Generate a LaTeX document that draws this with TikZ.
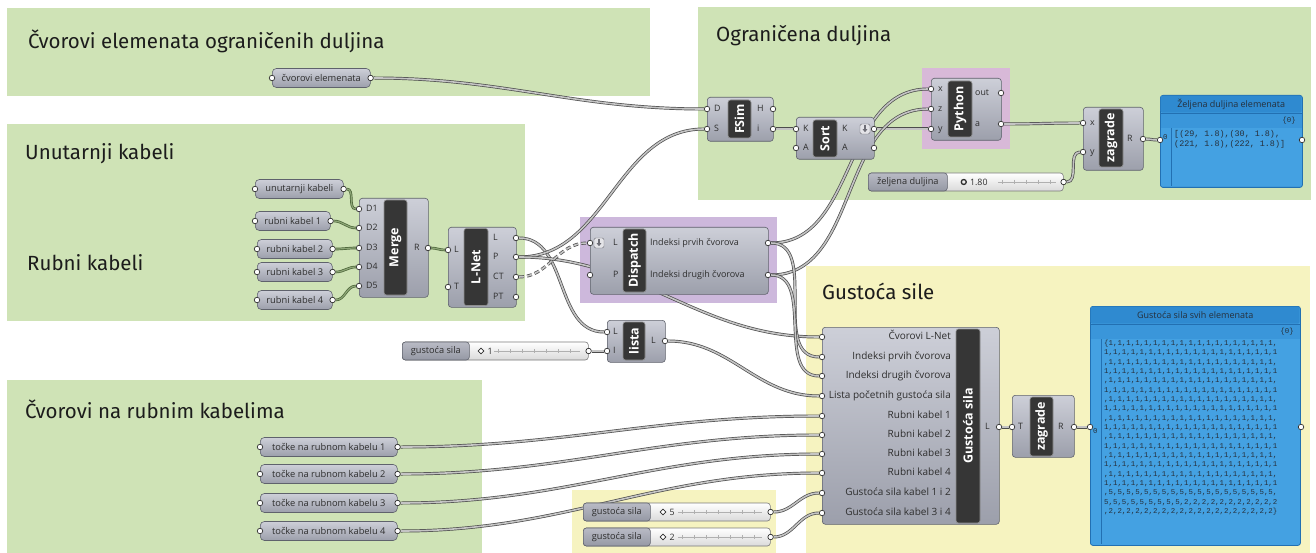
\documentclass[tikz,border=0pt]{standalone}
\usepackage{fontspec}
\setmainfont{Open Sans}
\newfontfamily\grptitlefont{Fira Sans}
\newfontfamily\panelmono{Liberation Mono}
\usetikzlibrary{positioning,arrows.meta,shapes.geometric}

\definecolor{grpgreen}{HTML}{CFE3B6}
\definecolor{grpyellow}{HTML}{F6F3C0}
\definecolor{grppurple}{HTML}{CDB8DC}
\definecolor{grppink}{HTML}{D8B9D8}
\definecolor{comptop}{HTML}{CDCFD8}
\definecolor{compbot}{HTML}{9C9FAB}
\definecolor{compline}{HTML}{5F626C}
\definecolor{bardark}{HTML}{363636}
\definecolor{barline}{HTML}{8E8E8E}
\definecolor{labeltext}{HTML}{2E2E2E}
\definecolor{titletext}{HTML}{1C1C1C}
\definecolor{portline}{HTML}{303030}
\definecolor{wireedge}{HTML}{4C4C4C}
\definecolor{wirefill}{HTML}{C4C4C4}
\definecolor{wiregreen}{HTML}{4A6338}
\definecolor{wiregreenfill}{HTML}{8DA676}
\definecolor{sldlabtop}{HTML}{B9BBC5}
\definecolor{sldlabbot}{HTML}{9598A4}
\definecolor{sldbot}{HTML}{DADADA}
\definecolor{sldline}{HTML}{7A7A7A}
\definecolor{railgray}{HTML}{B0B0B0}
\definecolor{panblue}{HTML}{44A1E2}
\definecolor{panhead}{HTML}{2F8AD0}
\definecolor{panband}{HTML}{3A96DA}
\definecolor{panline}{HTML}{2270B2}
\definecolor{pantext}{HTML}{26303C}
\definecolor{iconfill}{HTML}{E4E4E8}
\definecolor{iconline}{HTML}{6E6E76}

\pgfdeclarelayer{groups}
\pgfdeclarelayer{wires}
\pgfsetlayers{groups,wires,main}

\tikzset{
  grptitle/.style={font=\grptitlefont\fontsize{20.5}{23}\selectfont, text=titletext, anchor=base west, inner sep=0pt},
  ghcomp/.style={draw=compline, line width=0.6pt, rounded corners=3pt, top color=comptop, bottom color=compbot, anchor=north west, inner sep=0pt},
  ghbar/.style={draw=barline, line width=0.6pt, fill=bardark, rounded corners=2.5pt, rotate=90, inner sep=0pt, text=white, font=\bfseries\fontsize{12.5}{14}\selectfont},
  ghparam/.style={draw=compline, line width=0.6pt, rounded corners=4pt, top color=comptop, bottom color=compbot, anchor=west, minimum height=19pt, inner sep=0pt, text=labeltext, font=\fontsize{9.3}{10}\selectfont},
  ghlabel/.style={inner sep=0pt, text=labeltext, font=\fontsize{8.8}{10}\selectfont, text height=6pt, text depth=1.5pt},
  ghport/.style={circle, draw=portline, fill=white, line width=0.7pt, minimum size=5.5pt, inner sep=0pt},
  ghicon/.style={draw=iconline, fill=iconfill, rounded corners=1.5pt, minimum size=10pt, inner sep=0pt},
  icarrow/.style={draw=iconline, line width=1.1pt, -{Triangle[width=4.5pt,length=3pt]}},
  wire/.style={draw=wireedge, line width=0.7pt, double=wirefill, double distance=1.6pt},
  gwire/.style={draw=wiregreen, line width=0.7pt, double=wiregreenfill, double distance=1.2pt},
  sldbody/.style={draw=sldline, line width=0.6pt, rounded corners=3pt, top color=white, bottom color=sldbot, anchor=west, minimum height=18pt, inner sep=0pt},
  sldlab/.style={draw=compline, line width=0.6pt, rounded corners=3pt, top color=sldlabtop, bottom color=sldlabbot, anchor=west, minimum height=18pt, inner sep=0pt, text=labeltext, font=\fontsize{9.2}{10}\selectfont},
  dmark/.style={diamond, draw=labeltext, fill=white, line width=0.8pt, minimum size=6pt, inner sep=0pt},
  cmark/.style={circle, draw=labeltext, line width=1.3pt, minimum size=5pt, inner sep=0pt},
  sval/.style={inner sep=0pt, text=labeltext, font=\fontsize{8.8}{10}\selectfont},
  rail/.style={draw=railgray, line width=0.5pt},
  panel/.style={draw=panline, line width=0.8pt, fill=panblue, rounded corners=2.5pt, anchor=north west, inner sep=0pt},
  panhead/.style={fill=panhead, rounded corners=2pt, anchor=north west, inner sep=0pt, text=pantext, font=\fontsize{9}{10}\selectfont},
  panband/.style={fill=panband, anchor=north west, inner sep=0pt},
  panrule/.style={draw=panline, line width=0.5pt},
  panmono/.style={inner sep=0pt, text=pantext, font=\panelmono\fontsize{7.4}{9.33}\selectfont},
}

\begin{document}
\begin{tikzpicture}[x=1pt,y=-1pt]
\useasboundingbox (0,0) rectangle (1316,553);

% groups
\begin{pgfonlayer}{groups}
\fill[white] (0,0) rectangle (1316,553);
\fill[grpgreen] (7,8) rectangle (650,96);
\fill[grpgreen] (7,124) rectangle (525,321);
\fill[grpgreen] (698,7) rectangle (1311,200);
\fill[grpgreen] (7,380) rectangle (482,553);
\fill[grpyellow] (806,266) rectangle (1310,553);
\fill[grpyellow] (572,490) rectangle (776,553);
\fill[grppurple] (580,217) rectangle (777,303);
\fill[grppink] (922,68) rectangle (1010,149);
\end{pgfonlayer}

\node[grptitle] (t-cvor) at (28,49) {Čvorovi elemenata ograničenih duljina};
\node[grptitle] (t-unut) at (25,160) {Unutarnji kabeli};
\node[grptitle] (t-rub) at (27,270) {Rubni kabeli};
\node[grptitle] (t-ogr) at (716,42) {Ograničena duljina};
\node[grptitle] (t-gus) at (822,299) {Gustoća sile};
\node[grptitle] (t-toc) at (25,418) {Čvorovi na rubnim kabelima};

% params
\node[ghparam, minimum width=98pt] (cvor) at (272,78) {čvorovi elemenata};
\node[ghparam, minimum width=88pt] (unut) at (255,189) {unutarnji kabeli};
\node[ghparam, minimum width=75pt] (rub1) at (255,221) {rubni kabel 1};
\node[ghparam, minimum width=75pt] (rub2) at (257,249) {rubni kabel 2};
\node[ghparam, minimum width=75pt] (rub3) at (257,272) {rubni kabel 3};
\node[ghparam, minimum width=75pt] (rub4) at (257,300) {rubni kabel 4};
\node[ghparam, minimum width=137pt] (toc1) at (260,447) {točke na rubnom kabelu 1};
\node[ghparam, minimum width=137pt] (toc2) at (260,474) {točke na rubnom kabelu 2};
\node[ghparam, minimum width=137pt] (toc3) at (260,503) {točke na rubnom kabelu 3};
\node[ghparam, minimum width=137pt] (toc4) at (260,531) {točke na rubnom kabelu 4};
\foreach \n in {cvor,unut,rub1,rub2,rub3,rub4,toc1,toc2,toc3,toc4} {
  \node[ghport] (\n-i) at (\n.west) {};
  \node[ghport] (\n-o) at (\n.east) {};
}

% sliders
\node[sldbody, minimum width=186pt] (sg1) at (402,351) {};
\node[sldlab, minimum width=67pt] (sg1-lab) at (402,351) {gustoća sila};
\node[dmark, right=8pt of sg1-lab] (sg1-m) {};
\node[sval, right=3pt of sg1-m] (sg1-v) {1};
\node[sldbody, minimum width=187pt] (sg5) at (583,512) {};
\node[sldlab, minimum width=67pt] (sg5-lab) at (583,512) {gustoća sila};
\node[dmark, right=9pt of sg5-lab] (sg5-m) {};
\node[sval, right=3pt of sg5-m] (sg5-v) {5};
\node[sldbody, minimum width=187pt] (sg2) at (583,537) {};
\node[sldlab, minimum width=67pt] (sg2-lab) at (583,537) {gustoća sila};
\node[dmark, right=9pt of sg2-lab] (sg2-m) {};
\node[sval, right=3pt of sg2-m] (sg2-v) {2};
\node[sldbody, minimum width=195pt] (szd) at (868,182) {};
\node[sldlab, minimum width=79pt] (szd-lab) at (868,182) {željena duljina};
\node[cmark, right=13pt of szd-lab] (szd-m) {};
\node[sval, right=3pt of szd-m] (szd-v) {1.80};
\draw[rail] (494,351) -- (580,351);
\foreach \t in {498,510,...,578} \draw[rail] (\t,349) -- (\t,353);
\foreach \s in {512,537} {
  \draw[rail] (678,\s) -- (762,\s);
  \foreach \t in {682,694,...,760} \draw[rail] (\t,\s-2) -- (\t,\s+2);
}
\draw[rail] (998,182) -- (1056,182);
\foreach \t in {1002,1014,...,1056} \draw[rail] (\t,180) -- (\t,184);
\foreach \n in {sg1,sg5,sg2,szd} \node[ghport] (\n-o) at (\n.east) {};

% FSim
\node[ghcomp, minimum width=66pt, minimum height=44pt] (fsim) at (707,97) {};
\node[ghbar, minimum width=38pt, minimum height=23pt] (fsim-bar) at (739.5,119) {FSim};
\foreach \p/\y in {D/109,S/129} {\node[ghport] (fsim-\p) at (707,\y) {}; \node[ghlabel, anchor=west] (fsim-\p-t) at (714,\y) {\p};}
\foreach \p/\y in {H/109,i/129} {\node[ghport] (fsim-\p) at (773,\y) {}; \node[ghlabel, anchor=west] (fsim-\p-t) at (757,\y) {\p};}

% Sort
\node[ghcomp, minimum width=78pt, minimum height=42pt] (sort) at (796,117) {};
\node[ghbar, minimum width=37pt, minimum height=24pt] (sort-bar) at (825,138.5) {Sort};
\foreach \p/\y in {K/129,A/148} {
  \node[ghport] (sort-\p) at (796,\y) {}; \node[ghlabel, anchor=west] (sort-\p-t) at (803,\y) {\p};
  \node[ghport] (sort-\p o) at (874,\y) {}; \node[ghlabel, anchor=west] (sort-\p o-t) at (842,\y) {\p};
}
\node[ghicon] (sort-ic) at (865,129) {};
\draw[icarrow] ([yshift=-1.5pt]sort-ic.north) -- ([yshift=2pt]sort-ic.south);

% Python
\node[ghcomp, minimum width=70pt, minimum height=62pt] (py) at (931,78) {};
\node[ghbar, minimum width=56pt, minimum height=24pt] (py-bar) at (960,109) {Python};
\foreach \p/\y in {x/89,z/109,y/129} {\node[ghport] (py-\p) at (931,\y) {}; \node[ghlabel, anchor=west] (py-\p-t) at (938,\y) {\p};}
\foreach \p/\y in {out/93,a/124} {\node[ghport] (py-\p) at (1001,\y) {}; \node[ghlabel, anchor=west] (py-\p-t) at (975,\y) {\p};}

% zagrade (top)
\node[ghcomp, minimum width=60pt, minimum height=63pt] (zgt) at (1083,107) {};
\node[ghbar, minimum width=58pt, minimum height=24pt] (zgt-bar) at (1111,138) {zagrade};
\foreach \p/\y in {x/123,y/152} {\node[ghport] (zgt-\p) at (1083,\y) {}; \node[ghlabel, anchor=west] (zgt-\p-t) at (1090,\y) {\p};}
\node[ghport] (zgt-R) at (1143,139) {};
\node[ghlabel, anchor=west] (zgt-R-t) at (1127,139) {R};

% panel (top)
\node[panel, minimum width=142pt, minimum height=92pt] (pz) at (1160,95) {};
\node[panhead, minimum width=141pt, minimum height=17pt] (pz-h) at (1160.5,95.5) {Željena duljina elemenata};
\node[panband, minimum width=141pt, minimum height=15pt] (pz-b) at (pz-h.south west) {};
\draw[panrule] (pz-h.south west) -- (pz-h.south east);
\node[panmono, anchor=east] (pz-bt) at ([xshift=-6pt]pz-b.east) {\{0\}};
\draw[panrule] (1171,128) -- (1171,186);
\node[panmono, anchor=west] (pz-0) at (1163,137) {0};
\node[panmono, anchor=north west, align=left, font=\panelmono\fontsize{8.4}{10}\selectfont] (pz-txt) at (1174,130) {[(29, 1.8),(30, 1.8),\\(221, 1.8),(222, 1.8)]};
\node[ghport] (pz-i) at (1160,140) {};
\node[ghport] (pz-o) at (1302,140) {};

% Merge
\node[ghcomp, minimum width=69pt, minimum height=99pt] (mrg) at (359,198) {};
\node[ghbar, minimum width=95pt, minimum height=23pt] (mrg-bar) at (395.5,247.5) {Merge};
\foreach \p/\y in {D1/209,D2/228,D3/248,D4/267,D5/286} {\node[ghport] (mrg-\p) at (359,\y) {}; \node[ghlabel, anchor=west] (mrg-\p-t) at (366,\y) {\p};}
\node[ghport] (mrg-R) at (428,248) {};
\node[ghlabel, anchor=west] (mrg-R-t) at (414,248) {R};

% L-Net
\node[ghcomp, minimum width=68pt, minimum height=80pt] (lnet) at (448,227) {};
\node[ghbar, minimum width=77pt, minimum height=24pt] (lnet-bar) at (476,267) {L-Net};
\foreach \p/\y in {L/250,T/287} {\node[ghport] (lnet-\p) at (448,\y) {}; \node[ghlabel, anchor=west] (lnet-\p-t) at (454,\y) {\p};}
\foreach \p/\y in {L/238,P/257,CT/277,PT/297} {\node[ghport] (lnet-\p o) at (516,\y) {}; \node[ghlabel, anchor=west] (lnet-\p o-t) at (493,\y) {\p};}

% Dispatch
\node[ghcomp, minimum width=178pt, minimum height=67pt] (dsp) at (590,227) {};
\node[ghbar, minimum width=63pt, minimum height=23pt] (dsp-bar) at (634.5,260.5) {Dispatch};
\foreach \p/\y in {L/243,P/275} {\node[ghport] (dsp-\p) at (590,\y) {}; \node[ghlabel, anchor=west] (dsp-\p-t) at (613,\y) {\p};}
\node[ghicon] (dsp-ic) at (599,243) {};
\draw[icarrow] ([yshift=-1.5pt]dsp-ic.north) -- ([yshift=2pt]dsp-ic.south);
\node[ghport] (dsp-A) at (768,243) {};
\node[ghlabel, anchor=west, font=\fontsize{9}{10}\selectfont] (dsp-A-t) at (650,243) {Indeksi prvih čvorova};
\node[ghport] (dsp-B) at (768,275) {};
\node[ghlabel, anchor=west, font=\fontsize{9}{10}\selectfont] (dsp-B-t) at (650,275) {Indeksi drugih čvorova};

% lista
\node[ghcomp, minimum width=58pt, minimum height=42pt] (lst) at (607,320) {};
\node[ghbar, minimum width=38pt, minimum height=22pt] (lst-bar) at (634,341) {lista};
\foreach \p/\y in {L/332,I/351} {\node[ghport] (lst-\p) at (607,\y) {}; \node[ghlabel, anchor=west] (lst-\p-t) at (613,\y) {\p};}
\node[ghport] (lst-Lo) at (665,341) {};
\node[ghlabel, anchor=west] (lst-Lo-t) at (651,341) {L};

% Gustoca sila
\node[ghcomp, minimum width=177pt, minimum height=197pt] (gs) at (822,327) {};
\node[ghbar, minimum width=194pt, minimum height=24pt] (gs-bar) at (968,426) {Gustoća sila};
\foreach \i/\y/\t in {1/337/Čvorovi L-Net,2/357/Indeksi prvih čvorova,3/376/Indeksi drugih čvorova,4/396/Lista početnih gustoća sila,5/416/Rubni kabel 1,6/435/Rubni kabel 2,7/454/Rubni kabel 3,8/473/Rubni kabel 4,9/493/Gustoća sila kabel 1 i 2,10/513/Gustoća sila kabel 3 i 4} {
  \node[ghport] (gs-\i) at (822,\y) {};
  \node[ghlabel, anchor=east, font=\fontsize{10}{11}\selectfont] (gs-\i-t) at (951,\y) {\t};
}
\node[ghport] (gs-L) at (999,427) {};
\node[ghlabel, anchor=west] (gs-L-t) at (985,427) {L};

% zagrade (bottom)
\node[ghcomp, minimum width=62pt, minimum height=62pt] (zgb) at (1012,395) {};
\node[ghbar, minimum width=59pt, minimum height=23pt] (zgb-bar) at (1041.5,426.5) {zagrade};
\node[ghport] (zgb-T) at (1012,427) {};
\node[ghlabel, anchor=west] (zgb-T-t) at (1018,427) {T};
\node[ghport] (zgb-R) at (1074,427) {};
\node[ghlabel, anchor=west] (zgb-R-t) at (1058,427) {R};

% panel (bottom)
\node[panel, minimum width=210pt, minimum height=239pt] (pg) at (1090,306) {};
\node[panhead, minimum width=209pt, minimum height=17pt] (pg-h) at (1090.5,306.5) {Gustoća sila svih elemenata};
\node[panband, minimum width=209pt, minimum height=15pt] (pg-b) at (pg-h.south west) {};
\draw[panrule] (pg-h.south west) -- (pg-h.south east);
\node[panmono, anchor=east] (pg-bt) at ([xshift=-6pt]pg-b.east) {\{0\}};
\draw[panrule] (1101,339) -- (1101,544);
\node[panmono, anchor=west] (pg-0) at (1093,431) {0};
\node[panmono, anchor=north west, align=left] (pg-txt) at (1104,340) {%
\{1,1,1,1,1,1,1,1,1,1,1,1,1,1,1,1,1,1,1,\\
1,1,1,1,1,1,1,1,1,1,1,1,1,1,1,1,1,1,1,1\\
,1,1,1,1,1,1,1,1,1,1,1,1,1,1,1,1,1,1,1,\\
1,1,1,1,1,1,1,1,1,1,1,1,1,1,1,1,1,1,1,1\\
,1,1,1,1,1,1,1,1,1,1,1,1,1,1,1,1,1,1,1,\\
1,1,1,1,1,1,1,1,1,1,1,1,1,1,1,1,1,1,1,1\\
,1,1,1,1,1,1,1,1,1,1,1,1,1,1,1,1,1,1,1,\\
1,1,1,1,1,1,1,1,1,1,1,1,1,1,1,1,1,1,1,1\\
,1,1,1,1,1,1,1,1,1,1,1,1,1,1,1,1,1,1,1,\\
1,1,1,1,1,1,1,1,1,1,1,1,1,1,1,1,1,1,1,1\\
,1,1,1,1,1,1,1,1,1,1,1,1,1,1,1,1,1,1,1,\\
1,1,1,1,1,1,1,1,1,1,1,1,1,1,1,1,1,1,1,1\\
,1,1,1,1,1,1,1,1,1,1,1,1,1,1,1,1,1,1,1,\\
1,1,1,1,1,1,1,1,1,1,1,1,1,1,1,1,1,1,1,1\\
,1,1,1,1,1,1,1,1,1,1,1,1,1,1,1,1,1,1,1,\\
1,1,1,1,1,1,1,1,1,1,1,1,1,1,1,1,1,1,1,1\\
,5,5,5,5,5,5,5,5,5,5,5,5,5,5,5,5,5,5,5,\\
5,5,5,5,5,5,5,5,5,2,2,2,2,2,2,2,2,2,2,2\\
,2,2,2,2,2,2,2,2,2,2,2,2,2,2,2,2,2,2,2\}};
\node[ghport] (pg-i) at (1090,427) {};
\node[ghport] (pg-o) at (1301,427) {};

% wires
\begin{pgfonlayer}{wires}
\draw[wire] (cvor-o) to[out=0,in=180] (fsim-D);
\draw[wire] (fsim-i) to[out=0,in=180] (sort-K);
\draw[wire] (sort-Ko) to[out=0,in=180] (py-y);
\draw[wire] (dsp-A) to[out=0,in=180] (py-x);
\draw[wire] (dsp-B) to[out=0,in=180] (py-z);
\draw[wire] (py-a) to[out=0,in=180] (zgt-x);
\draw[wire] (szd-o) to[out=0,in=180] (zgt-y);
\draw[wire] (zgt-R) to[out=0,in=180] (pz-i);
\draw[gwire] (unut-o) to[out=0,in=180] (mrg-D1);
\draw[gwire] (rub1-o) to[out=0,in=180] (mrg-D2);
\draw[gwire] (rub2-o) to[out=0,in=180] (mrg-D3);
\draw[gwire] (rub3-o) to[out=0,in=180] (mrg-D4);
\draw[gwire] (rub4-o) to[out=0,in=180] (mrg-D5);
\draw[gwire] (mrg-R) to[out=0,in=180] (lnet-L);
\draw[wire] (lnet-Lo) to[out=0,in=180] (lst-L);
\draw[wire] (lnet-Po) to[out=0,in=180] (fsim-S);
\draw[wire] (lnet-Po) to[out=0,in=180] (gs-1);
\draw[wire, dash pattern=on 5pt off 3pt] (lnet-CTo) to[out=0,in=180] (dsp-L);
\draw[wire] (dsp-A) to[out=0,in=180] (gs-2);
\draw[wire] (dsp-B) to[out=0,in=180] (gs-3);
\draw[wire] (lst-Lo) to[out=0,in=180] (gs-4);
\draw[wire] (sg1-o) to[out=0,in=180] (lst-I);
\foreach \k/\i in {1/5,2/6,3/7,4/8} \draw[wire] (toc\k-o) to[out=0,in=180] (gs-\i);
\draw[wire] (sg5-o) to[out=0,in=180] (gs-9);
\draw[wire] (sg2-o) to[out=0,in=180] (gs-10);
\draw[wire] (gs-L) to[out=0,in=180] (zgb-T);
\draw[wire] (zgb-R) to[out=0,in=180] (pg-i);
\end{pgfonlayer}
\end{tikzpicture}
\end{document}
